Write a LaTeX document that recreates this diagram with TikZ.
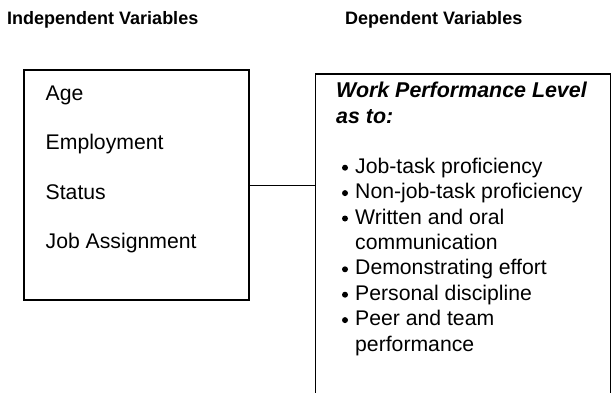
\documentclass[tikz,border=0pt]{standalone}
\usepackage{fontspec}
\setmainfont{Liberation Sans}
\begin{document}
\begin{tikzpicture}[x=1pt,y=-1pt,
  box/.style={draw=black,line width=1.3pt,inner sep=0pt,outer sep=0pt},
  head/.style={anchor=base west,inner sep=0pt,font=\bfseries\fontsize{18}{22}\selectfont},
  txt/.style={anchor=base west,inner sep=0pt,font=\fontsize{21.2}{25}\selectfont},
  bhead/.style={anchor=base west,inner sep=0pt,font=\bfseries\itshape\fontsize{21.4}{25}\selectfont},
  dot/.style={circle,fill=black,inner sep=0pt,minimum size=6pt}]
\useasboundingbox (0,0) rectangle (616,392);
\clip (0,0) rectangle (616,392);
\node[head] (hi) at (7,24.5) {Independent Variables};
\node[head] (hd) at (345,24.5) {Dependent Variables};
\node[box,minimum width=225pt,minimum height=230pt] (lbox) at (136.5,185) {};
\node[box,minimum width=295pt,minimum height=346pt] (rbox) at (462.7,247) {};
\draw[line width=1pt] (lbox.east) -- (lbox.east -| rbox.west);
\node[txt] (t1) at (45.5,100.7) {Age};
\node[txt] (t2) at (45.5,149.5) {Employment};
\node[txt] (t3) at (45.5,199) {Status};
\node[txt] (t4) at (45.5,248.3) {Job Assignment};
\node[bhead] (w1) at (336,97.7) {Work Performance Level};
\node[bhead] (w2) at (336,123.1) {as to:};
\foreach \y/\t/\b [count=\i] in {173.3/Job-task proficiency/1, 198.7/Non-job-task proficiency/1, 224.1/Written and oral/1, 249.5/communication/0, 274.9/Demonstrating effort/1, 300.3/Personal discipline/1, 325.7/Peer and team/1, 351.1/performance/0}{
  \node[txt] (b\i) at (355,\y) {\t};
  \ifnum\b=1 \node[dot] (d\i) at (345,\y-5.6) {};\fi
}
\end{tikzpicture}
\end{document}
